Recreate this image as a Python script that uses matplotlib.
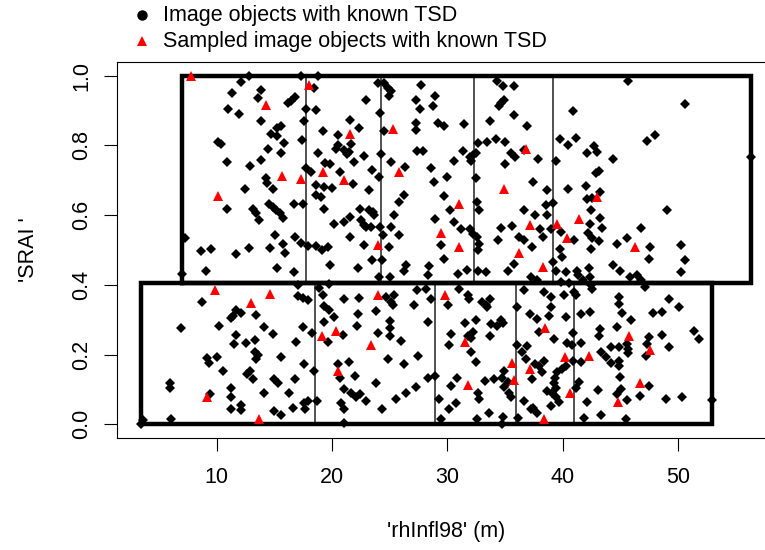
import matplotlib
matplotlib.use('Agg')
import matplotlib.pyplot as plt
from matplotlib.lines import Line2D

plt.rcParams['font.family'] = ['Liberation Sans', 'DejaVu Sans']

# image objects with known TSD (black diamonds)
obj_x = [
    12.8, 12.08, 17.33, 18.78, 18.49, 11.36, 13.87, 13.58, 16.76, 16.41, 16.18, 10.98, 11.97, 17.77, 18.63,
    13.87, 17.57, 19.21, 15.6, 15.26, 14.68, 15.26, 20.51, 10.12, 10.35, 15.83, 17.42, 14.45, 15.6, 18.78,
    20.51, 10.93, 12.86, 13.87, 17.77, 18.2, 19.41, 19.87, 14.3, 14.39, 14.88, 12.43, 18.63, 19.35, 20.02,
    18.63, 19.07, 10.93, 13.15, 13.44, 13.64, 14.51, 14.88, 15.17, 15.46, 15.8, 16.7, 17.48, 19.3, 20.22,
    7.23, 8.68, 9.48, 11.71, 12.8, 14.59, 15.08, 15.75, 15.89, 16.81, 17.33, 17.91, 18.63, 19.15, 19.7,
    23.97, 24.55, 24.84, 25.12, 24.98, 27.72, 22.96, 27.29, 27.66, 28.93, 28.73, 24.2, 21.6, 22.33, 20.36,
    21.66, 21.08, 21.32, 21.52, 21.95, 22.76, 24.55, 27.29, 27.29, 29.17, 29.68, 31.47, 27.38, 27.87, 24.26,
    25.12, 26.34, 23.45, 24.11, 20.74, 21.81, 23.25, 28.59, 28.88, 29.97, 30.61, 31.33, 31.99, 32.2, 32.05,
    32.48, 32.63, 33.49, 34.22, 34.99, 35.51, 35.86, 34.99, 36.67, 37.88, 32.48, 37.48, 38.69, 34.3, 34.88,
    35.75, 34.94, 34.65, 34.45, 35.75, 33.73, 36.9, 29.68, 26.22, 25.85, 25.41, 25.12, 25.85, 24.2, 24.4,
    23.25, 23.54, 23.68, 22.47, 22.53, 22.82, 22.96, 23.39, 21.6, 21.08, 21.6, 22.76, 24.92, 28.93, 30.26,
    30.61, 31.18, 29.45, 32.0, 32.2, 32.57, 32.77, 32.57, 32.77, 32.63, 34.65, 35.66, 34.36, 36.23, 36.67,
    37.39, 36.67, 37.59, 38.05, 38.34,
    45.7, 50.66, 40.94, 39.78, 40.48, 41.17, 42.15, 42.73, 43.02, 44.4, 47.35, 47.98, 56.35, 39.41, 42.87,
    43.16, 40.48, 42.01, 42.15, 42.58, 43.25, 38.54, 39.21, 38.69, 42.5, 43.25, 42.38, 43.45, 39.9, 38.98,
    41.0, 42.24, 42.58, 43.16, 42.5, 39.78, 44.75, 45.56, 46.77, 47.58, 49.08, 50.23,
    7.03, 9.11, 15.26, 16.7, 19.87, 19.79, 17.05, 8.73, 6.89, 11.42, 11.71, 12.08, 11.27, 13.44, 10.18,
    14.1, 14.88, 11.71, 11.5, 12.57, 13.29, 16.9, 17.48, 18.26, 17.05, 17.48, 17.91, 18.84, 19.21, 19.35,
    19.79, 20.22, 19.3, 19.64, 13.29, 13.58, 13.44, 15.55, 9.2, 9.31, 10.06, 10.55, 12.86, 12.66, 13.15,
    17.57, 18.43, 5.93, 5.93, 14.97, 15.31, 16.81, 11.27, 11.27, 9.4, 14.1, 16.32, 12.08, 12.08, 11.27,
    15.02, 15.55, 16.61, 17.62, 17.91, 18.72, 17.68, 6.02, 3.6, 3.45,
    23.45, 24.32, 22.24, 26.22, 26.42, 28.44, 28.3, 29.74, 30.95, 31.71, 32.63, 33.35, 35.23, 35.75, 37.25,
    37.77, 24.11, 25.07, 28.15, 27.38, 28.59, 21.08, 22.38, 24.69, 25.12, 25.41, 25.27, 27.09, 23.83, 22.24,
    22.18, 20.94, 25.07, 25.07, 25.07, 23.97, 25.99, 28.36, 31.04, 31.76, 31.91, 32.98, 33.35, 33.73, 33.49,
    30.03, 32.48, 31.56, 33.78, 34.65, 34.88, 34.3, 30.32, 32.2, 32.05, 31.76, 33.73, 30.12, 32.05, 32.48,
    36.09, 36.67, 37.19, 37.82, 37.97, 36.09, 36.52, 36.96, 38.4, 38.83, 24.9, 26.22, 27.49, 20.51, 21.52,
    22.01, 20.74, 21.08, 21.66, 22.1, 22.47, 22.96, 23.83, 27.29, 26.42, 25.56, 28.3, 28.93, 20.8, 21.08,
    24.32, 21.08, 30.84, 30.32, 30.75, 29.31, 30.17, 29.45, 32.63, 32.77, 33.26, 34.07, 34.94, 34.79, 35.23,
    34.94, 35.37, 35.51, 33.64, 32.57, 34.88, 34.71, 36.15, 36.81, 37.59, 37.97, 38.4, 38.26, 37.39, 38.63,
    36.67, 37.25, 37.48, 37.82,
    39.21, 39.99, 39.41, 40.27, 41.23, 41.34, 42.29, 42.38, 41.8, 42.44, 42.58, 44.4, 44.98, 47.49, 50.58,
    50.23, 45.85, 46.42, 46.77, 47.11, 39.84, 40.56, 40.13, 40.99, 41.14, 38.98, 38.98, 44.89, 44.89, 49.22,
    50.09, 41.63, 42.38, 40.27, 45.18, 45.9, 47.86, 48.64, 39.26, 40.94, 40.42, 40.85, 41.63, 43.25, 43.16,
    44.75, 44.23, 44.89, 45.56, 45.67, 45.67, 43.31, 47.49, 47.29, 47.2, 48.64, 49.22, 51.44, 51.82, 40.94,
    41.63, 43.74, 44.17, 44.89, 44.89, 44.98, 40.27, 39.99, 39.55, 39.32, 39.26, 39.41, 39.12, 39.41, 39.7,
    38.98, 41.43, 41.14, 43.07, 45.04, 44.69, 47.49, 46.71, 45.61, 48.93, 50.38, 42.15, 41.86, 43.31, 45.47,
    52.97,
]
obj_y = [
    0.998, 0.982, 0.998, 0.998, 0.965, 0.95, 0.96, 0.936, 0.938, 0.926, 0.921, 0.905, 0.891, 0.905, 0.902,
    0.869, 0.869, 0.84, 0.857, 0.85, 0.833, 0.828, 0.83, 0.809, 0.803, 0.806, 0.816, 0.79, 0.777, 0.777,
    0.801, 0.753, 0.742, 0.757, 0.736, 0.723, 0.749, 0.746, 0.707, 0.691, 0.675, 0.675, 0.686, 0.681, 0.678,
    0.657, 0.653, 0.617, 0.617, 0.605, 0.585, 0.633, 0.624, 0.614, 0.605, 0.593, 0.632, 0.632, 0.619, 0.576,
    0.533, 0.496, 0.504, 0.488, 0.506, 0.506, 0.544, 0.516, 0.49, 0.537, 0.521, 0.512, 0.512, 0.499, 0.509,
    0.979, 0.979, 0.965, 0.955, 0.941, 0.974, 0.931, 0.929, 0.905, 0.941, 0.912, 0.893, 0.873, 0.849, 0.79,
    0.803, 0.787, 0.774, 0.782, 0.753, 0.771, 0.842, 0.864, 0.845, 0.864, 0.857, 0.861, 0.784, 0.784, 0.774,
    0.751, 0.739, 0.729, 0.71, 0.723, 0.688, 0.672, 0.734, 0.696, 0.71, 0.755, 0.785, 0.768, 0.772, 0.755,
    0.777, 0.806, 0.809, 0.819, 0.809, 0.777, 0.768, 0.748, 0.787, 0.761, 0.707, 0.696, 0.672, 0.984, 0.971,
    0.971, 0.931, 0.921, 0.912, 0.888, 0.869, 0.857, 0.655, 0.657, 0.638, 0.6, 0.566, 0.544, 0.566, 0.542,
    0.614, 0.609, 0.6, 0.619, 0.585, 0.573, 0.566, 0.566, 0.595, 0.581, 0.537, 0.515, 0.509, 0.588, 0.614,
    0.581, 0.561, 0.515, 0.561, 0.547, 0.638, 0.614, 0.537, 0.518, 0.499, 0.563, 0.569, 0.528, 0.537, 0.528,
    0.509, 0.616, 0.6, 0.561, 0.537,
    0.984, 0.919, 0.9, 0.818, 0.801, 0.822, 0.777, 0.799, 0.782, 0.761, 0.813, 0.83, 0.766, 0.756, 0.72,
    0.726, 0.675, 0.684, 0.646, 0.648, 0.667, 0.63, 0.636, 0.6, 0.616, 0.592, 0.576, 0.563, 0.552, 0.56,
    0.53, 0.549, 0.533, 0.525, 0.502, 0.504, 0.516, 0.533, 0.564, 0.509, 0.616, 0.513,
    0.432, 0.439, 0.448, 0.438, 0.456, 0.403, 0.4, 0.35, 0.275, 0.312, 0.329, 0.319, 0.304, 0.314, 0.283,
    0.28, 0.259, 0.256, 0.23, 0.232, 0.243, 0.235, 0.28, 0.262, 0.367, 0.362, 0.358, 0.391, 0.37, 0.339,
    0.329, 0.307, 0.293, 0.235, 0.208, 0.199, 0.187, 0.192, 0.189, 0.176, 0.194, 0.152, 0.153, 0.144, 0.13,
    0.173, 0.153, 0.12, 0.105, 0.13, 0.118, 0.13, 0.103, 0.077, 0.086, 0.091, 0.091, 0.055, 0.041, 0.043,
    0.038, 0.026, 0.046, 0.062, 0.067, 0.067, 0.045, 0.016, 0.012, 0.0,
    0.47, 0.47, 0.448, 0.441, 0.456, 0.454, 0.429, 0.473, 0.432, 0.444, 0.441, 0.437, 0.441, 0.461, 0.422,
    0.413, 0.422, 0.422, 0.387, 0.384, 0.36, 0.36, 0.362, 0.365, 0.35, 0.371, 0.343, 0.343, 0.326, 0.317,
    0.283, 0.256, 0.297, 0.275, 0.254, 0.262, 0.24, 0.294, 0.387, 0.371, 0.36, 0.352, 0.341, 0.36, 0.336,
    0.343, 0.3, 0.291, 0.288, 0.3, 0.292, 0.283, 0.259, 0.264, 0.249, 0.254, 0.254, 0.227, 0.208, 0.179,
    0.336, 0.384, 0.317, 0.302, 0.264, 0.227, 0.208, 0.225, 0.379, 0.312, 0.187, 0.173, 0.195, 0.173, 0.178,
    0.139, 0.134, 0.1, 0.091, 0.077, 0.087, 0.067, 0.12, 0.106, 0.091, 0.072, 0.134, 0.139, 0.062, 0.043,
    0.043, 0.005, 0.134, 0.11, 0.062, 0.072, 0.043, 0.014, 0.091, 0.072, 0.125, 0.13, 0.154, 0.134, 0.122,
    0.106, 0.091, 0.077, 0.033, 0.014, 0.022, 0.0, 0.019, 0.187, 0.173, 0.166, 0.182, 0.149, 0.13, 0.096,
    0.067, 0.043, 0.048, 0.033,
    0.467, 0.48, 0.441, 0.437, 0.441, 0.429, 0.448, 0.422, 0.413, 0.4, 0.389, 0.458, 0.441, 0.473, 0.47,
    0.438, 0.422, 0.427, 0.413, 0.393, 0.408, 0.406, 0.371, 0.379, 0.371, 0.365, 0.336, 0.365, 0.346, 0.36,
    0.336, 0.317, 0.323, 0.307, 0.319, 0.3, 0.319, 0.323, 0.245, 0.262, 0.233, 0.227, 0.233, 0.273, 0.254,
    0.28, 0.221, 0.221, 0.23, 0.216, 0.204, 0.208, 0.25, 0.23, 0.197, 0.256, 0.223, 0.269, 0.246, 0.182,
    0.179, 0.192, 0.176, 0.182, 0.166, 0.137, 0.168, 0.158, 0.149, 0.134, 0.12, 0.105, 0.091, 0.077, 0.064,
    0.053, 0.122, 0.105, 0.099, 0.101, 0.086, 0.11, 0.081, 0.07, 0.074, 0.077, 0.064, 0.019, 0.026, 0.016,
    0.07,
]

# sampled image objects with known TSD (red triangles)
samp_x = [
    7.81, 17.97, 14.3, 15.69, 17.33, 19.24, 10.12, 21.6, 25.27, 21.03, 25.79, 31.04, 29.45, 23.97, 31.04,
    34.94, 36.87, 37.19, 36.23, 43.02, 39.55, 41.46, 40.42, 46.25, 9.89, 14.59, 13.01, 19.12, 20.34, 20.55,
    9.17, 13.64, 24.03, 29.8, 23.39, 31.56, 31.82, 35.66, 37.19, 35.8, 38.46, 38.4, 38.3, 45.76, 47.58,
    40.19, 42.29, 46.71, 40.65, 44.81,
]
samp_y = [
    1.0, 0.974, 0.915, 0.713, 0.703, 0.725, 0.655, 0.832, 0.847, 0.7, 0.725, 0.633, 0.55, 0.515, 0.509,
    0.675, 0.789, 0.571, 0.492, 0.653, 0.576, 0.59, 0.533, 0.51, 0.384, 0.374, 0.347, 0.252, 0.269, 0.153,
    0.077, 0.016, 0.371, 0.37, 0.227, 0.235, 0.112, 0.176, 0.16, 0.128, 0.275, 0.014, 0.45, 0.252, 0.214,
    0.192, 0.195, 0.12, 0.089, 0.064,
]

# partition boxes (SRAI split, rhInfl98 strata)
srai_split = 0.404
upper_breaks = [7.0, 17.75, 24.25, 32.3, 39.2, 56.35]
lower_breaks = [3.45, 18.55, 28.9, 36.0, 41.0, 53.0]

fig = plt.figure(figsize=(7.65, 5.5), dpi=100)
ax = fig.add_axes([0.1525, 0.2031, 0.8612, 0.6847])

for breaks, y0, y1 in [(upper_breaks, srai_split, 1.0), (lower_breaks, 0.0, srai_split)]:
    for xb in breaks[1:-1]:
        ax.plot([xb, xb], [y0, y1], color='#222222', lw=1.1, zorder=1)
    ax.plot([breaks[0], breaks[-1], breaks[-1], breaks[0], breaks[0]],
            [y0, y0, y1, y1, y0], color='black', lw=3.2, zorder=2,
            solid_joinstyle='miter', clip_on=False)

ax.plot(obj_x, obj_y, 'D', color='black', ms=4.6, mew=0, zorder=3)
ax.plot(samp_x, samp_y, '^', color='red', ms=7.4, mew=0, zorder=4)

xmin, xmax = min(obj_x), max(obj_x)
pad = 0.04 * (xmax - xmin)
ax.set_xlim(xmin - pad, xmax + pad)
ax.set_ylim(-0.04, 1.04)

ax.set_xticks([10, 20, 30, 40, 50])
ax.set_yticks([0.0, 0.2, 0.4, 0.6, 0.8, 1.0])
ax.set_yticklabels(['0.0', '0.2', '0.4', '0.6', '0.8', '1.0'], rotation=90, va='center')
ax.tick_params(direction='out', length=9.5, width=0.8, labelsize=15.5, colors='black')
ax.tick_params(axis='x', pad=11)
ax.tick_params(axis='y', pad=8)
for sp in ax.spines.values():
    sp.set_linewidth(0.8)

fig.text(0.583, 1 - 532 / 550, "'rhInfl98' (m)", ha='center', va='center', fontsize=15.5)
fig.text(28 / 765, 1 - 250 / 550, "'SRAI '", ha='center', va='center', rotation=90, fontsize=15.5)

# legend above the plot region
fig.add_artist(Line2D([141.7 / 765], [1 - 15 / 550], marker='o', color='black', ms=7.5, mew=0,
                      transform=fig.transFigure))
fig.add_artist(Line2D([141.7 / 765], [1 - 41 / 550], marker='^', color='red', ms=7.4, mew=0,
                      transform=fig.transFigure))
fig.text(163 / 765, 1 - 15 / 550, 'Image objects with known TSD', va='center', fontsize=15.5)
fig.text(163 / 765, 1 - 42 / 550, 'Sampled image objects with known TSD', va='center', fontsize=15.5)

plt.savefig('out.png', dpi=100)
